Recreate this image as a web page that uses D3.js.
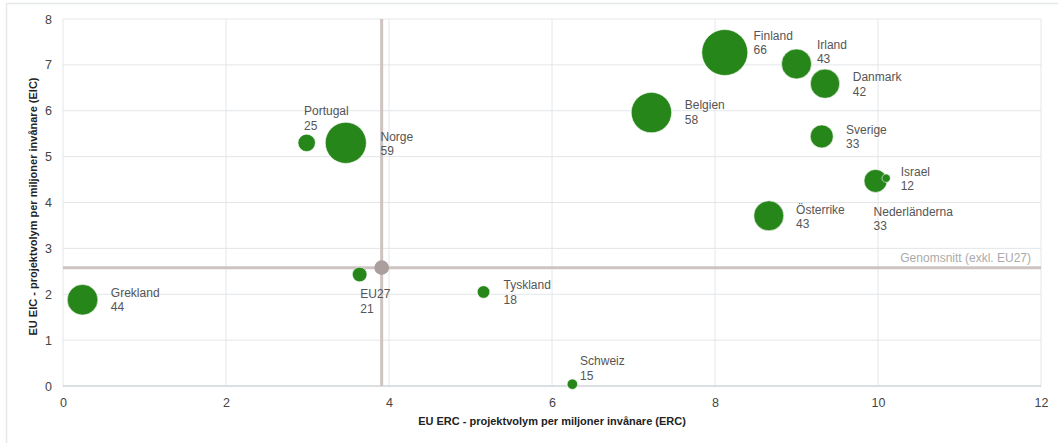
<!DOCTYPE html>
<html><head><meta charset="utf-8">
<script src="https://cdn.jsdelivr.net/npm/d3@7"></script>
<style>
html,body{margin:0;padding:0;background:#fff;}
svg{display:block;font-family:"Liberation Sans",Arial,sans-serif;}
</style></head>
<body><svg id="c" width="1058" height="443"></svg>
<script>
// ---- data ----
const countries = ["Finland","Irland","Danmark","Belgien","Sverige","Nederländerna","Israel","Österrike","Portugal","Norge","Grekland","EU27","Tyskland","Schweiz"];
const ercValues = [8.12, 9.00, 9.35, 7.22, 9.31, 9.97, 10.10, 8.66, 2.99, 3.47, 0.24, 3.64, 5.16, 6.25];
const eicValues = [7.27, 7.02, 6.59, 5.96, 5.44, 4.47, 4.53, 3.71, 5.30, 5.30, 1.88, 2.43, 2.05, 0.04];
const projectCounts = [66, 43, 42, 58, 33, 33, 12, 43, 25, 59, 44, 21, 18, 15];
const averageErc = 3.91;
const averageEic = 2.58;
const averageLabel = "Genomsnitt (exkl. EU27)";
const xTicks = [0, 2, 4, 6, 8, 10, 12];
const yTicks = [0, 1, 2, 3, 4, 5, 6, 7, 8];
const xTitle = "EU ERC - projektvolym per miljoner invånare (ERC)";
const yTitle = "EU EIC - projektvolym per miljoner invånare (EIC)";

// ---- layout (label offsets in px relative to bubble centre) ----
const labelOffsets = {
  "Finland":[28.7,-16.7], "Irland":[20.4,-19.3], "Danmark":[27.7,-6.7], "Belgien":[33.3,-7.7],
  "Sverige":[24.3,-6.7], "Nederländerna":[-2,30.7], "Israel":[14.5,-6.5], "Österrike":[27.3,-6.3],
  "Portugal":[-2.7,-31.6], "Norge":[34.7,-6.3], "Grekland":[28.3,-7], "EU27":[0.7,19.7],
  "Tyskland":[20,-6.7], "Schweiz":[7.7,-23.3]
};

const svg = d3.select("#c");
const m = {l:63, r:1041, t:19, b:386};
const x = d3.scaleLinear().domain([0,12]).range([m.l, m.r]);
const y = d3.scaleLinear().domain([0,8]).range([m.b, m.t]);
const r = d3.scaleLinear().domain([0,66]).range([0,23]);

// outer frame
svg.append("rect").attr("x",6.5).attr("y",3.5).attr("width",1100).attr("height",500)
  .attr("fill","none").attr("stroke","#e6e9eb").attr("stroke-width",1.5);

// grid
const grid = svg.append("g");
grid.selectAll("line.gx").data(xTicks).join("line")
  .attr("x1",d=>x(d)).attr("x2",d=>x(d)).attr("y1",m.t).attr("y2",m.b)
  .attr("stroke","#e2e6e9").attr("stroke-width",1);
grid.selectAll("line.gy").data(yTicks).join("line")
  .attr("y1",d=>y(d)).attr("y2",d=>y(d)).attr("x1",m.l).attr("x2",m.r)
  .attr("stroke","#e2e6e9").attr("stroke-width",1);
svg.append("line").attr("x1",m.l).attr("x2",m.r).attr("y1",m.b).attr("y2",m.b)
  .attr("stroke","#d3d9dd").attr("stroke-width",1.5);

// axes
const xa = svg.append("g").attr("transform",`translate(0,${m.b})`)
  .call(d3.axisBottom(x).tickValues(xTicks).tickSize(0).tickPadding(12).tickFormat(d3.format("d")));
const ya = svg.append("g").attr("transform",`translate(${m.l},0)`)
  .call(d3.axisLeft(y).tickValues(yTicks).tickSize(0).tickPadding(11).tickFormat(d3.format("d")));
[xa,ya].forEach(a=>{
  a.select(".domain").remove();
  a.selectAll("text").attr("font-size",12.5).attr("fill","#444").attr("font-family","Liberation Sans, Arial, sans-serif");
});

// average lines
svg.append("line").attr("x1",x(averageErc)).attr("x2",x(averageErc)).attr("y1",m.t).attr("y2",m.b)
  .attr("stroke","#cdc3c1").attr("stroke-width",3);
svg.append("line").attr("x1",m.l).attr("x2",m.r).attr("y1",y(averageEic)).attr("y2",y(averageEic))
  .attr("stroke","#cdc3c1").attr("stroke-width",3);
svg.append("text").attr("x",m.r-10).attr("y",y(averageEic)-10).attr("dy","0.35em")
  .attr("text-anchor","end").attr("font-size",12).attr("fill","#aaa").text(averageLabel);

// bubbles
const data = countries.map((c,i)=>({name:c, ex:ercValues[i], ey:eicValues[i], n:projectCounts[i]}));
svg.append("g").selectAll("circle").data(data).join("circle")
  .attr("cx",d=>x(d.ex)).attr("cy",d=>y(d.ey)).attr("r",d=>r(d.n))
  .attr("fill","#27861a").attr("stroke","#ffffff").attr("stroke-width",0.6);
svg.append("circle").attr("cx",x(averageErc)).attr("cy",y(averageEic)).attr("r",7.3).attr("fill","#aa9f9d");

// labels
const lab = svg.append("g").selectAll("g").data(data).join("g")
  .attr("transform",d=>`translate(${x(d.ex)+labelOffsets[d.name][0]},${y(d.ey)+labelOffsets[d.name][1]})`);
lab.append("text").attr("dy","0.35em").attr("font-size",12).attr("fill","#555").text(d=>d.name);
lab.append("text").attr("y",14.5).attr("dy","0.35em").attr("font-size",12).attr("fill","#555").text(d=>d.n);

// axis titles
svg.append("text").attr("x",(m.l+m.r)/2).attr("y",421).attr("dy","0.35em").attr("text-anchor","middle")
  .attr("font-size",11).attr("font-weight","bold").attr("fill","#222").text(xTitle);
svg.append("text").attr("transform",`translate(33,${(m.t+m.b)/2+4}) rotate(-90)`).attr("dy","0.35em")
  .attr("text-anchor","middle").attr("font-size",11).attr("font-weight","bold").attr("fill","#222").text(yTitle);
</script></body></html>
